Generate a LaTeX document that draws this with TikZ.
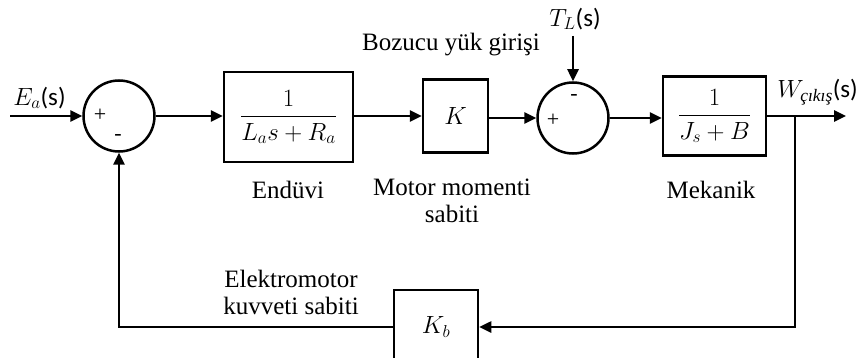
\documentclass[tikz,border=0pt]{standalone}
\usepackage{amsmath}
\usepackage{fontspec}
\setmainfont{Liberation Serif}
\newfontfamily\calib{Carlito}
\usetikzlibrary{arrows.meta}
\begin{document}
\begin{tikzpicture}[x=1pt,y=-1pt,
  line width=2.5pt,
  >={Triangle[length=12pt,width=11pt]},
  lbl/.style={font=\fontsize{25}{27}\selectfont, inner sep=0pt, align=center},
  blk/.style={draw, line width=2.5pt, inner sep=2pt, font=\fontsize{26}{28}\selectfont},
  sumc/.style={draw, circle, line width=2.5pt, minimum size=71pt, inner sep=0pt},
  sgn/.style={font=\fontsize{22}{22}\selectfont, inner sep=0pt}]
\useasboundingbox (0,0) rectangle (866,358);
% summing junctions
\node[sumc] (s1) at (119,116) {};
\node[sgn] (s1p) at (100,115) {+};
\node[sgn] (s1m) at (118,137) {-};
\node[sumc] (s2) at (573,118) {};
\node[sgn] (s2p) at (553,120) {+};
\node[sgn] (s2m) at (574,97) {-};
% blocks
\node[blk, minimum width=129pt, minimum height=90pt] (b1) at (288.5,117) {$\dfrac{1}{L_a s+R_a}$};
\node[blk, minimum width=65pt, minimum height=73pt] (b2) at (455.5,116) {$K$};
\node[blk, minimum width=103pt, minimum height=79pt] (b3) at (714.5,116) {$\dfrac{1}{J_s+B}$};
\node[blk, minimum width=84pt, minimum height=74pt] (kb) at (436,327) {$K_b$};
% coordinates
\coordinate (in) at (10,116);
\coordinate (tl) at (573,36);
\coordinate (br) at (795,116);
\coordinate (out) at (846,116);
\coordinate (fbr) at (795,327);
\coordinate (fbl) at (119,327);
% connectors
\draw[->] (in) -- (s1.west);
\draw[->] (s1.east) -- (b1.west |- s1.east);
\draw[->] (b1.east |- 0,116) -- (b2.west |- 0,116);
\draw[->] (b2.east |- 0,118) -- (s2.west);
\draw[->] (s2.east) -- (b3.west |- s2.east);
\draw[->] (tl) -- (s2.north);
\draw[->] (b3.east |- 0,116) -- (out);
\draw[->] (br) -- (fbr) -- (kb.east |- fbr);
\draw[->] (kb.west |- fbl) -- (fbl) -- (s1.south);
% labels
\node[lbl, anchor=south west] (ea) at (12,110) {$E_a${\calib(s)}};
\node[lbl, anchor=south] (tll) at (575,31) {$T_L${\calib(s)}};
\node[lbl, anchor=south west] (wl) at (776,106) {$W_{\text{\itshape çıkış}}${\calib(s)}};
\node[lbl] (boz) at (451,45) {Bozucu yük girişi};
\node[lbl] (end) at (288,190) {Endüvi};
\node[lbl] (mm) at (452,201) {Motor momenti\\sabiti};
\node[lbl] (mek) at (711,190) {Mekanik};
\node[lbl] (emk) at (291,292) {Elektromotor\\kuvveti sabiti};
\end{tikzpicture}
\end{document}
